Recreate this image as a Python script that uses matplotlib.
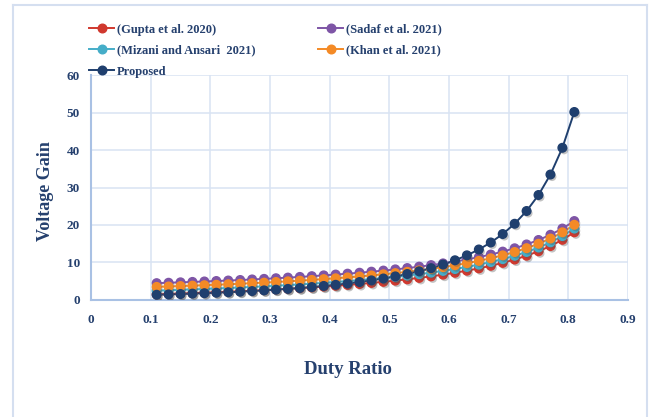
import matplotlib
matplotlib.use("Agg")
import matplotlib.pyplot as plt
from matplotlib.lines import Line2D
import matplotlib.patheffects as pe

# Duty ratio sweep
duty = [0.11, 0.13, 0.15, 0.17, 0.19, 0.21, 0.23, 0.25, 0.27, 0.29, 0.31, 0.33,
        0.35, 0.37, 0.39, 0.41, 0.43, 0.45, 0.47, 0.49, 0.51, 0.53, 0.55, 0.57,
        0.59, 0.61, 0.63, 0.65, 0.67, 0.69, 0.71, 0.73, 0.75, 0.77, 0.79, 0.81]

gupta = [1.49, 1.60, 1.71, 1.82, 1.94, 2.06, 2.19, 2.33, 2.48, 2.63, 2.80, 2.97,
         3.15, 3.35, 3.56, 3.78, 4.02, 4.27, 4.55, 4.84, 5.16, 5.51, 5.89, 6.30,
         6.76, 7.26, 7.81, 8.43, 9.12, 9.90, 10.79, 11.81, 13.00, 14.39, 16.05, 18.05]

sadaf = [4.49, 4.60, 4.71, 4.82, 4.94, 5.06, 5.19, 5.33, 5.48, 5.63, 5.80, 5.97,
         6.15, 6.35, 6.56, 6.78, 7.02, 7.27, 7.55, 7.84, 8.16, 8.51, 8.89, 9.30,
         9.76, 10.26, 10.81, 11.43, 12.12, 12.90, 13.79, 14.81, 16.00, 17.39, 19.05, 21.05]

mizani = [2.49, 2.60, 2.71, 2.82, 2.94, 3.06, 3.19, 3.33, 3.48, 3.63, 3.80, 3.97,
          4.15, 4.35, 4.56, 4.78, 5.02, 5.27, 5.55, 5.84, 6.16, 6.51, 6.89, 7.30,
          7.76, 8.26, 8.81, 9.43, 10.12, 10.90, 11.79, 12.81, 14.00, 15.39, 17.05, 19.05]

khan = [3.49, 3.60, 3.71, 3.82, 3.94, 4.06, 4.19, 4.33, 4.48, 4.63, 4.80, 4.97,
        5.15, 5.35, 5.56, 5.78, 6.02, 6.27, 6.55, 6.84, 7.16, 7.51, 7.89, 8.30,
        8.76, 9.26, 9.81, 10.43, 11.12, 11.90, 12.79, 13.81, 15.00, 16.39, 18.05, 20.05]

proposed = [1.40, 1.49, 1.59, 1.70, 1.81, 1.94, 2.07, 2.22, 2.38, 2.56, 2.75, 2.96,
            3.20, 3.45, 3.74, 4.05, 4.40, 4.79, 5.23, 5.73, 6.29, 6.93, 7.65, 8.49,
            9.46, 10.59, 11.91, 13.47, 15.34, 17.59, 20.33, 23.73, 28.00, 33.46, 40.59, 50.14]

x_ticks = [0, 0.1, 0.2, 0.3, 0.4, 0.5, 0.6, 0.7, 0.8, 0.9]
x_tick_labels = ["0", "0.1", "0.2", "0.3", "0.4", "0.5", "0.6", "0.7", "0.8", "0.9"]
y_ticks = [0, 10, 20, 30, 40, 50, 60]

series = [
    ("(Gupta et al. 2020)", gupta, "#d0382e"),
    ("(Sadaf et al. 2021)", sadaf, "#7e55a6"),
    ("(Mizani and Ansari  2021)", mizani, "#45adc8"),
    ("(Khan et al. 2021)", khan, "#f48a26"),
    ("Proposed", proposed, "#1f3f6e"),
]

TEXT = "#25406e"
SERIF = "Liberation Serif"

fig = plt.figure(figsize=(6.52, 4.17), dpi=100)
ax = fig.add_axes([0.1396, 0.2806, 0.9632 - 0.1396, 0.8201 - 0.2806])

shadow = [pe.SimplePatchShadow(offset=(1.2, -1.6), shadow_rgbFace="#555555", alpha=0.35),
          pe.Normal()]

handles = {}
for label, vals, color in series:
    ax.plot(duty, vals, color=color, lw=1.4, zorder=2)
    ax.plot(duty, vals, linestyle="none", marker="o", ms=6.2, color=color,
            markeredgecolor=color, path_effects=shadow, zorder=3)
    handles[label] = Line2D([], [], color=color, lw=1.4, marker="o", ms=6.2)

ax.set_xlim(0, 0.9)
ax.set_ylim(0, 60)
ax.set_xticks(x_ticks)
ax.set_xticklabels(x_tick_labels)
ax.set_yticks(y_ticks)
ax.grid(True, color="#d9e3f3", lw=1.1)
ax.set_axisbelow(True)
for s in ("top", "right"):
    ax.spines[s].set_visible(False)
for s in ("left", "bottom"):
    ax.spines[s].set_color("#a9c1e4")
    ax.spines[s].set_linewidth(1.5)
ax.tick_params(length=0)
ax.tick_params(axis="x", pad=10)
ax.tick_params(axis="y", pad=8)
for t in ax.get_xticklabels() + ax.get_yticklabels():
    t.set_family(SERIF)
    t.set_weight("bold")
    t.set_fontsize(9.5)
    t.set_color(TEXT)

fig.text(348 / 652, 1 - 370 / 417, "Duty Ratio", ha="center", va="center",
         family=SERIF, weight="bold", fontsize=13.5, color=TEXT)
fig.text(45 / 652, 1 - 191 / 417, "Voltage Gain", ha="center", va="center",
         rotation=90, family=SERIF, weight="bold", fontsize=13, color=TEXT)

order = ["(Gupta et al. 2020)", "(Mizani and Ansari  2021)", "Proposed",
         "(Sadaf et al. 2021)", "(Khan et al. 2021)"]
leg = fig.legend([handles[k] for k in order], order, ncol=2, frameon=False,
                 loc="upper left", bbox_to_anchor=(89 / 652, 1 - 23.5 / 417),
                 borderaxespad=0, borderpad=0, handlelength=2.0,
                 handletextpad=0.25, columnspacing=5.0, labelspacing=0.72,
                 prop={"family": SERIF, "weight": "bold", "size": 9})
for t in leg.get_texts():
    t.set_color(TEXT)

# outer chart frame
frame_c = "#d5dff0"
fig.add_artist(Line2D([13 / 652, 13 / 652], [0, 1 - 5 / 417], color=frame_c, lw=1.5))
fig.add_artist(Line2D([13 / 652, 647 / 652], [1 - 5 / 417, 1 - 5 / 417], color=frame_c, lw=1.5))
fig.add_artist(Line2D([647 / 652, 647 / 652], [0, 1 - 5 / 417], color=frame_c, lw=1.5))

fig.savefig("out.png", dpi=100)
